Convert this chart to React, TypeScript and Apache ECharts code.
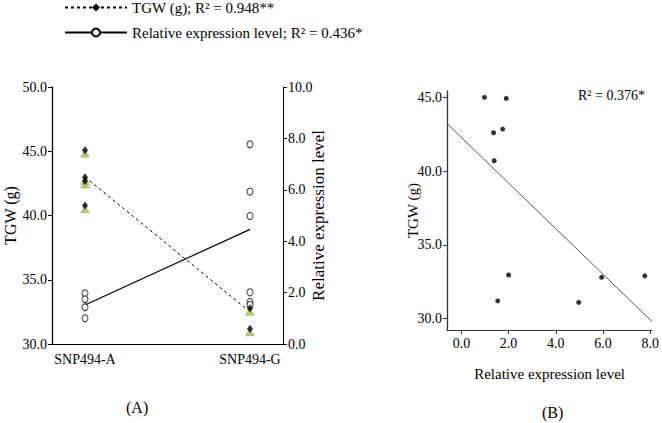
import React, { useEffect, useRef } from 'react';
import * as echarts from 'echarts';

// ---- Panel A data ----
const categories = ['SNP494-A', 'SNP494-G'];
const categoryX = [0, 5];
const tgwA = [45.0, 42.9, 42.6, 40.7];
const tgwG = [32.7, 31.1];
const exprA = [1.97, 1.74, 1.43, 1.0];
const exprG = [7.77, 5.93, 4.98, 2.01, 1.63, 1.52];
const tgwMeans = [43.0, 32.5];
const exprMeans = [1.52, 4.46];
const legendNames = ['TGW (g); R² = 0.948**', 'Relative expression level; R² = 0.436*'];
const tgwTicks = [30, 35, 40, 45, 50];
const exprTicks = [0, 2, 4, 6, 8, 10];

// ---- Panel B data ----
const relExprB = [0.98, 1.9, 1.36, 1.75, 1.39, 2.0, 1.54, 4.97, 5.94, 7.77];
const tgwB = [45.0, 44.93, 42.6, 42.85, 40.7, 32.96, 31.2, 31.1, 32.8, 32.9];
const xTicksB = [0, 2, 4, 6, 8];
const yTicksB = [30, 35, 40, 45];
const r2B = 'R² = 0.376*';

const FONT = '"Liberation Serif", "Times New Roman", serif';

function fitLine(xs: number[], ys: number[]) {
  const n = xs.length;
  const mx = xs.reduce((a, b) => a + b, 0) / n;
  const my = ys.reduce((a, b) => a + b, 0) / n;
  let sxy = 0;
  let sxx = 0;
  for (let i = 0; i < n; i++) {
    sxy += (xs[i] - mx) * (ys[i] - my);
    sxx += (xs[i] - mx) * (xs[i] - mx);
  }
  const slope = sxy / sxx;
  return { slope, intercept: my - slope * mx };
}

export default function App() {
  const ref = useRef<HTMLDivElement>(null);
  useEffect(() => {
    document.body.style.margin = '0';
    if (!ref.current) return;
    const chart = echarts.init(ref.current, undefined, { renderer: 'svg' });

    const tgwPts = [
      ...tgwA.map((v) => [categoryX[0], v]),
      ...tgwG.map((v) => [categoryX[1], v]),
    ];
    const exprPts = [
      ...exprA.map((v) => [categoryX[0], v]),
      ...exprG.map((v) => [categoryX[1], v]),
    ];
    const bMin = -0.61;
    const bMax = 8.08;
    const fit = fitLine(relExprB, tgwB);
    const regLine = [bMin, bMax].map((x) => [x, fit.intercept + fit.slope * x]);

    const labelStyle = { color: '#000', fontFamily: FONT, fontSize: 14 };
    const nameStyle = { color: '#000', fontFamily: FONT, fontSize: 16 };

    const option: any = {
      animation: false,
      backgroundColor: '#fff',
      textStyle: { fontFamily: FONT },
      legend: {
        left: 64,
        top: 0,
        padding: 0,
        orient: 'vertical',
        itemWidth: 62,
        itemHeight: 10,
        itemGap: 10,
        data: legendNames,
        textStyle: { color: '#000', fontFamily: FONT, fontSize: 15 },
      },
      grid: [
        { left: 52, top: 87, width: 231, height: 257 },
        { left: 447, top: 91, width: 209, height: 239 },
      ],
      xAxis: [
        {
          type: 'value',
          gridIndex: 0,
          min: -1,
          max: 6,
          axisLine: { show: true, onZero: false, lineStyle: { color: '#000', width: 1 } },
          splitLine: { show: false },
          axisTick: { show: false },
          axisLabel: {
            ...labelStyle,
            margin: 8,
            customValues: categoryX,
            formatter: (v: number) => {
              const i = categoryX.indexOf(v);
              return i >= 0 ? categories[i] : '';
            },
          },
        },
        {
          type: 'value',
          gridIndex: 1,
          min: bMin,
          max: bMax,
          axisLine: { show: true, onZero: false, lineStyle: { color: '#333', width: 1 } },
          splitLine: { show: false },
          axisTick: { show: true, length: 4, customValues: xTicksB, lineStyle: { color: '#333' } },
          axisLabel: {
            ...labelStyle,
            margin: 6,
            customValues: xTicksB,
            formatter: (v: number) => v.toFixed(1),
          },
          name: 'Relative expression level',
          nameLocation: 'middle',
          nameGap: 36,
          nameMoveOverlap: false,
          nameTextStyle: { ...nameStyle, fontSize: 15 },
        },
      ],
      yAxis: [
        {
          type: 'value',
          gridIndex: 0,
          position: 'left',
          min: tgwTicks[0],
          max: tgwTicks[tgwTicks.length - 1],
          interval: 5,
          axisLine: { show: true, onZero: false, lineStyle: { color: '#000', width: 1.3 } },
          splitLine: { show: false },
          axisTick: { show: true, length: 4, lineStyle: { color: '#000' } },
          axisLabel: { ...labelStyle, margin: 5, formatter: (v: number) => v.toFixed(1) },
          name: 'TGW (g)',
          nameLocation: 'middle',
          nameGap: 34,
          nameMoveOverlap: false,
          nameRotate: 90,
          nameTextStyle: nameStyle,
        },
        {
          type: 'value',
          gridIndex: 0,
          position: 'right',
          min: exprTicks[0],
          max: exprTicks[exprTicks.length - 1],
          interval: 2,
          axisLine: { show: true, onZero: false, lineStyle: { color: '#000', width: 1 } },
          splitLine: { show: false },
          axisTick: { show: true, length: 4, lineStyle: { color: '#000' } },
          axisLabel: { ...labelStyle, margin: 5, formatter: (v: number) => v.toFixed(1) },
          name: 'Relative expression level',
          nameLocation: 'middle',
          nameGap: 27,
          nameMoveOverlap: false,
          nameRotate: 90,
          nameTextStyle: { ...nameStyle, fontSize: 17 },
        },
        {
          type: 'value',
          gridIndex: 1,
          min: 29.23,
          max: 45.43,
          axisLine: { show: true, onZero: false, lineStyle: { color: '#333', width: 1.3 } },
          splitLine: { show: false },
          axisTick: { show: true, length: 4, customValues: yTicksB, lineStyle: { color: '#333' } },
          axisLabel: {
            ...labelStyle,
            margin: 5,
            customValues: yTicksB,
            formatter: (v: number) => v.toFixed(1),
          },
          name: 'TGW (g)',
          nameLocation: 'middle',
          nameGap: 27,
          nameMoveOverlap: false,
          nameRotate: 90,
          nameTextStyle: { ...nameStyle, fontSize: 15 },
        },
      ],
      series: [
        {
          name: legendNames[0],
          type: 'line',
          xAxisIndex: 0,
          yAxisIndex: 0,
          data: categoryX.map((x, i) => [x, tgwMeans[i]]),
          symbol: 'diamond',
          showSymbol: false,
          itemStyle: { color: '#000' },
          lineStyle: { color: '#000', width: 1, type: [3, 3] },
          z: 2,
        },
        {
          name: legendNames[1],
          type: 'line',
          xAxisIndex: 0,
          yAxisIndex: 1,
          data: categoryX.map((x, i) => [x, exprMeans[i]]),
          symbol: 'circle',
          showSymbol: false,
          itemStyle: { color: '#fff', borderColor: '#000', borderWidth: 1 },
          lineStyle: { color: '#000', width: 1.2 },
          z: 2,
        },
        {
          type: 'scatter',
          xAxisIndex: 0,
          yAxisIndex: 0,
          data: tgwPts,
          symbol: 'triangle',
          symbolSize: [10, 9],
          symbolOffset: [0, 2],
          itemStyle: { color: '#9bbb59' },
          z: 3,
        },
        {
          type: 'scatter',
          xAxisIndex: 0,
          yAxisIndex: 0,
          data: tgwPts,
          symbol: 'diamond',
          symbolSize: [6, 8],
          symbolOffset: [0, -1],
          itemStyle: { color: '#000' },
          z: 4,
        },
        {
          type: 'scatter',
          xAxisIndex: 0,
          yAxisIndex: 1,
          data: exprPts,
          symbol: 'circle',
          symbolSize: [6, 7],
          itemStyle: { color: '#fff', borderColor: '#000', borderWidth: 1 },
          z: 3,
        },
        {
          type: 'scatter',
          xAxisIndex: 1,
          yAxisIndex: 2,
          data: relExprB.map((x, i) => [x, tgwB[i]]),
          symbol: 'circle',
          symbolSize: 5,
          itemStyle: { color: '#000' },
          z: 3,
        },
        {
          type: 'line',
          xAxisIndex: 1,
          yAxisIndex: 2,
          data: regLine,
          symbol: 'none',
          lineStyle: { color: '#555', width: 1 },
          z: 2,
        },
      ],
      graphic: [
        {
          type: 'text',
          left: 126,
          top: 399,
          style: { text: '(A)', font: `16px ${FONT}`, fill: '#000' },
        },
        {
          type: 'text',
          left: 542,
          top: 404,
          style: { text: '(B)', font: `16px ${FONT}`, fill: '#000' },
        },
        {
          type: 'text',
          left: 578,
          top: 88,
          style: { text: r2B, font: `14px ${FONT}`, fill: '#000' },
        },
      ],
    };
    chart.setOption(option);
    return () => chart.dispose();
  }, []);
  return <div ref={ref} style={{ width: 662, height: 423 }} />;
}
